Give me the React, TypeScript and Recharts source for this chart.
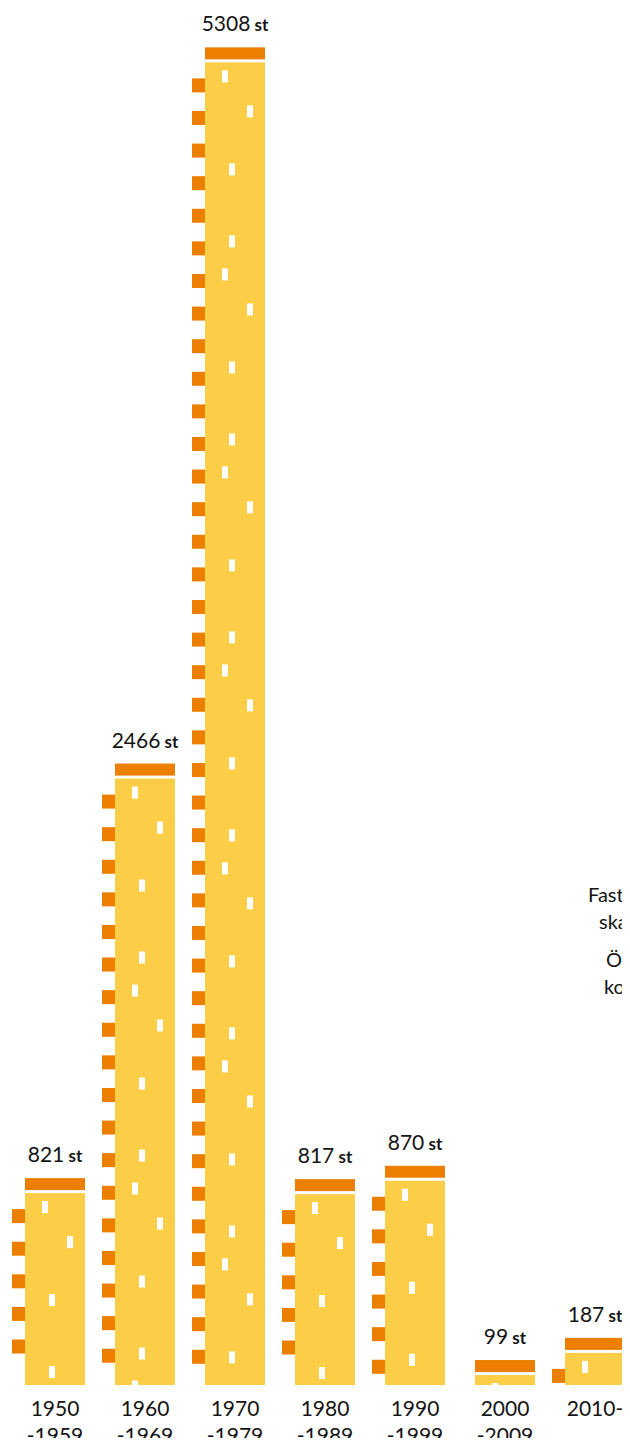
import { BarChart, Bar, XAxis, YAxis, LabelList } from 'recharts';

// Decade of construction and number of buildings
const decades = ['1950', '1960', '1970', '1980', '1990', '2000', '2010'];
const decadeEnds = ['-1959', '-1969', '-1979', '-1989', '-1999', '-2009', ''];
const buildings = [821, 2466, 5308, 817, 870, 99, 187];

// Clipped text of the neighbouring panel at the right edge
const sideLines = ['Fastighets-', 'skatt', 'Övriga', 'kostnader'];

const YELLOW = '#FCCD46';
const ORANGE = '#EC7F00';
const INK = '#141414';
const FONT = 'Lato, "Open Sans", sans-serif';

const data = decades.map((d, i) => ({
  decade: d,
  end: decadeEnds[i],
  count: buildings[i],
}));

// Window pattern for each 198px storey block: [dx, dy]
const WINDOWS = [
  [17, 8],
  [42, 43],
  [24, 101],
  [24, 173],
];

const Building = (props: any) => {
  const { x, y, width, height } = props;
  const bottom = y + height;
  const roof = 12;
  const bodyTop = y + roof + 3;
  const parts: any[] = [];

  parts.push(<rect key="roof" x={x} y={y} width={width} height={roof} fill={ORANGE} />);
  parts.push(<rect key="body" x={x} y={bodyTop} width={width} height={Math.max(0, bottom - bodyTop)} fill={YELLOW} />);

  // balconies on the left wall
  for (let by = bodyTop + 16, k = 0; by + 14 <= bottom; k++, by = bodyTop + 16 + k * 32.6) {
    parts.push(<rect key={`b${k}`} x={x - 13} y={by} width={13} height={14} fill={ORANGE} />);
  }

  // windows
  for (let base = bodyTop, k = 0; base < bottom; k++, base = bodyTop + k * 198) {
    WINDOWS.forEach(([dx, dy], j) => {
      const wy = base + dy;
      const h = Math.min(12, bottom - wy);
      if (h > 0) {
        parts.push(<rect key={`w${k}-${j}`} x={x + dx} y={wy} width={6} height={h} fill="#ffffff" />);
      }
    });
  }

  return <g>{parts}</g>;
};

const CountLabel = (props: any) => {
  const { x, y, width, value } = props;
  return (
    <text x={x + width / 2} y={y - 16} textAnchor="middle" fill={INK} fontFamily={FONT}>
      <tspan fontSize={21}>{value}</tspan>
      <tspan fontSize={17} fontWeight={700}>{' st'}</tspan>
    </text>
  );
};

const DecadeTick = (props: any) => {
  const { x, y, payload, index } = props;
  const end = decadeEnds[index] ?? '';
  return (
    <text x={x} y={y} textAnchor="middle" fill={INK} fontFamily={FONT} fontSize={21}>
      <tspan x={x} dy={31}>{payload.value + (end ? '' : '-')}</tspan>
      {end && <tspan x={x} dy={27}>{end}</tspan>}
    </text>
  );
};

const App = () => {
  return (
    <div style={{ position: 'relative', width: 630, height: 1446, overflow: 'hidden', margin: -8 }}>
      <BarChart
        width={640}
        height={1446}
        data={data}
        margin={{ top: 0, right: 0, left: 10, bottom: 0 }}
        barCategoryGap={30}
      >
        <XAxis
          dataKey="decade"
          axisLine={false}
          tickLine={false}
          tickSize={0}
          tickMargin={0}
          height={61}
          interval={0}
          tick={<DecadeTick />}
        />
        <YAxis hide domain={[0, 5496]} />
        <Bar dataKey="count" barSize={60} shape={<Building />} isAnimationActive={false}>
          <LabelList dataKey="count" content={<CountLabel />} />
        </Bar>
      </BarChart>
      <svg
        width={630}
        height={1446}
        style={{ position: 'absolute', left: 0, top: 0, pointerEvents: 'none' }}
      >
        <text x={588} y={902} fontSize={20} fontFamily={FONT} fill={INK}>{sideLines[0]}</text>
        <text x={599} y={929} fontSize={20} fontFamily={FONT} fill={INK}>{sideLines[1]}</text>
        <text x={606} y={967} fontSize={20} fontFamily={FONT} fill={INK}>{sideLines[2]}</text>
        <text x={604} y={994} fontSize={20} fontFamily={FONT} fill={INK}>{sideLines[3]}</text>
      </svg>
    </div>
  );
};

export default App;
